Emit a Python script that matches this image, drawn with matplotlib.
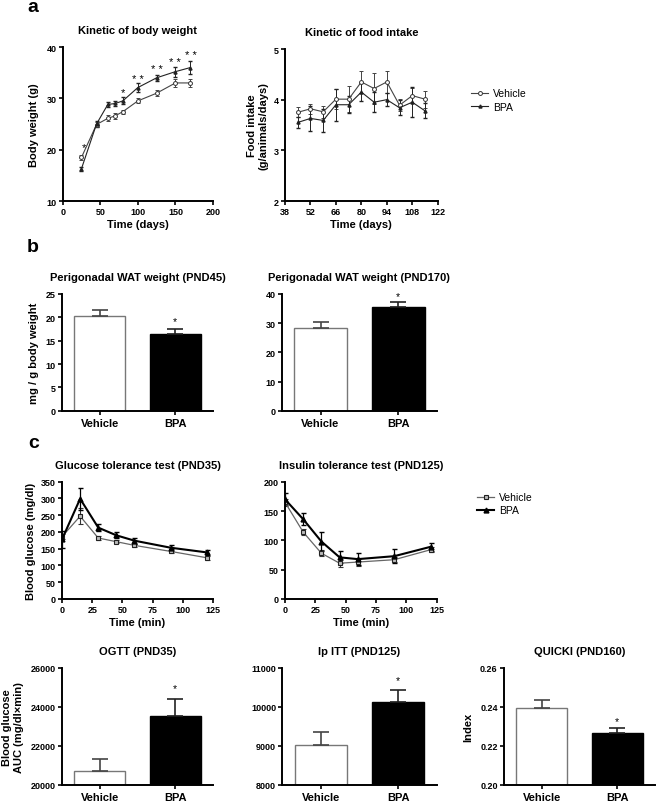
import matplotlib
matplotlib.use("Agg")
import matplotlib.pyplot as plt
import numpy as np

plt.rcParams["font.family"] = ["Liberation Sans", "DejaVu Sans"]
plt.rcParams["font.weight"] = "bold"

# ---- data ----
bw_days = [25, 45, 60, 70, 80, 100, 125, 150, 170]
bw_veh = [18.5, 24.9, 26.1, 26.6, 27.4, 29.5, 31.0, 33.0, 33.0]
bw_veh_err = [0.5, 0.4, 0.6, 0.6, 0.4, 0.5, 0.6, 0.7, 0.8]
bw_bpa = [16.3, 25.0, 28.8, 29.0, 29.5, 32.1, 34.0, 35.2, 36.0]
bw_bpa_err = [0.4, 0.5, 0.4, 0.5, 0.7, 0.8, 0.6, 1.0, 1.2]
bw_stars = {25: ("*", 20.5), 80: ("*", 31.3), 100: ("* *", 33.8),
            125: ("* *", 35.7), 150: ("* *", 37.1), 170: ("* *", 38.5)}

fi_days = [45, 52, 59, 66, 73, 80, 87, 94, 101, 108, 115]
fi_veh = [3.75, 3.82, 3.76, 4.01, 4.01, 4.35, 4.22, 4.35, 3.89, 4.08, 4.01]
fi_veh_err = [0.10, 0.10, 0.12, 0.20, 0.25, 0.22, 0.30, 0.22, 0.12, 0.15, 0.17]
fi_bpa = [3.55, 3.63, 3.59, 3.90, 3.90, 4.15, 3.95, 4.00, 3.84, 3.95, 3.78]
fi_bpa_err = [0.10, 0.25, 0.23, 0.32, 0.17, 0.17, 0.20, 0.13, 0.15, 0.30, 0.15]

wat45 = [20.2, 16.4]
wat45_err = [1.4, 1.0]
wat170 = [28.5, 35.4]
wat170_err = [1.8, 2.0]

t_min = [0, 15, 30, 45, 60, 90, 120]
gtt_veh = [186, 247, 182, 171, 160, 142, 123]
gtt_veh_err = [8, 24, 6, 5, 5, 6, 6]
gtt_bpa = [178, 299, 213, 190, 174, 153, 139]
gtt_bpa_err = [25, 32, 10, 9, 9, 9, 8]

itt_veh = [165, 114, 78, 61, 63, 67, 84]
itt_veh_err = [6, 5, 5, 6, 6, 4, 4]
itt_bpa = [170, 136, 98, 71, 68, 73, 89]
itt_bpa_err = [10, 10, 17, 10, 10, 12, 7]

groups = ["Vehicle", "BPA"]
ogtt_auc = [20690, 23550]
ogtt_auc_err = [650, 860]
itt_auc = [9030, 10120]
itt_auc_err = [320, 320]
quicki = [0.2396, 0.2267]
quicki_err = [0.0041, 0.0026]

W, H = 660, 803
fig = plt.figure(figsize=(W / 100, H / 100), dpi=100)


def px_axes(l, t, r, b):
    ax = fig.add_axes([l / W, 1 - b / H, (r - l) / W, (b - t) / H])
    for s in ["top", "right"]:
        ax.spines[s].set_visible(False)
    for s in ["left", "bottom"]:
        ax.spines[s].set_linewidth(1.4)
    ax.tick_params(width=1.2, length=3, labelsize=6.5, pad=1.5)
    return ax


def style_ticks(ax):
    for lab in ax.get_xticklabels() + ax.get_yticklabels():
        lab.set_fontweight("bold")


TFS = 8
LFS = 8

# ---- a: body weight ----
ax = px_axes(62.7, 48, 213, 202)
ax.errorbar(bw_days, bw_veh, yerr=bw_veh_err, color="#444444", lw=0.8, marker="o",
            ms=2.8, mfc="white", mec="#333333", mew=0.7, capsize=1.5, elinewidth=0.7)
ax.errorbar(bw_days, bw_bpa, yerr=bw_bpa_err, color="#222222", lw=0.8, marker="^",
            ms=2.2, mfc="#222222", mec="#222222", capsize=1.5, elinewidth=0.7)
for d, (s, y) in bw_stars.items():
    ax.text(d + (3 if d == 25 else 0), y, s, ha="center", va="center", fontsize=8, fontweight="normal")
ax.set_xlim(0, 200)
ax.set_ylim(10, 40)
ax.set_xticks([0, 50, 100, 150, 200])
ax.set_yticks([10, 20, 30, 40])
style_ticks(ax)
ax.set_title("Kinetic of body weight", fontsize=TFS, fontweight="bold", pad=10)
ax.set_xlabel("Time (days)", fontsize=LFS, fontweight="bold", labelpad=2)
ax.set_ylabel("Body weight (g)", fontsize=LFS, fontweight="bold", labelpad=5)

# ---- a: food intake ----
ax = px_axes(285, 50, 437.7, 202)
h1 = ax.errorbar(fi_days, fi_veh, yerr=fi_veh_err, color="#444444", lw=0.8, marker="o",
                 ms=2.8, mfc="white", mec="#333333", mew=0.7, capsize=1.5, elinewidth=0.7)
h2 = ax.errorbar(fi_days, fi_bpa, yerr=fi_bpa_err, color="#222222", lw=0.8, marker="^",
                 ms=2.2, mfc="#222222", mec="#222222", capsize=1.5, elinewidth=0.7)
ax.set_xlim(38, 122)
ax.set_ylim(2, 5)
ax.set_xticks(range(38, 123, 14))
ax.set_yticks([2, 3, 4, 5])
style_ticks(ax)
ax.set_title("Kinetic of food intake", fontsize=TFS, fontweight="bold", pad=10)
ax.set_xlabel("Time (days)", fontsize=LFS, fontweight="bold", labelpad=2)
ax.set_ylabel("Food intake\n(g/animals/days)", fontsize=LFS, fontweight="bold", labelpad=4)
fig.legend([h1[0], h2[0]], groups, loc="upper left", bbox_to_anchor=(462 / W, 1 - 80 / H),
           frameon=False, handlelength=1.6, handletextpad=0.5,
           labelspacing=0.3, prop={"weight": "normal", "size": 7.5})


# ---- bar helper ----
def bars(ax, vals, errs, ylim, yticks, title, ylabel=None, star_y=None, fmt=None):
    x = np.arange(len(groups))
    ax.bar(x, vals, width=0.68, color=["white", "black"], edgecolor=["#777777", "black"], lw=1.0)
    for xi, v, e, c in zip(x, vals, errs, ["#444444", "#222222"]):
        ax.errorbar([xi], [v], yerr=[[0], [e]], fmt="none", ecolor=c,
                    elinewidth=1.2, capsize=5.5, capthick=1.2)
    ax.set_xlim(-0.5, 1.5)
    ax.set_ylim(*ylim)
    ax.set_yticks(yticks)
    if fmt:
        ax.set_yticklabels([fmt.format(v) for v in yticks])
    ax.set_xticks(x)
    ax.set_xticklabels(groups, fontsize=8, fontweight="bold")
    ax.tick_params(axis="x", pad=2)
    style_ticks(ax)
    ax.set_title(title, fontsize=TFS, fontweight="bold", pad=10)
    if ylabel:
        ax.set_ylabel(ylabel, fontsize=LFS, fontweight="bold", labelpad=5)
    if star_y is not None:
        ax.text(1, star_y, "*", ha="center", va="center", fontsize=7.5, fontweight="normal")


# ---- b ----
ax = px_axes(62, 295, 213, 411.7)
bars(ax, wat45, wat45_err, (0, 25), [0, 5, 10, 15, 20, 25], "Perigonadal WAT weight (PND45)",
     "mg / g body weight", star_y=19.2)
ax = px_axes(281.7, 295, 437, 411.7)
bars(ax, wat170, wat170_err, (0, 40), [0, 10, 20, 30, 40], "Perigonadal WAT weight (PND170)",
     star_y=39.2)

# ---- c: GTT / ITT ----
ax = px_axes(62, 482.7, 213, 600)
ax.errorbar(t_min, gtt_veh, yerr=gtt_veh_err, color="#666666", lw=0.9, marker="s", ms=3.5,
            mfc="#bbbbbb", mec="#222222", mew=0.8, capsize=1.8, elinewidth=0.8, ecolor="#333333")
ax.errorbar(t_min, gtt_bpa, yerr=gtt_bpa_err, color="black", lw=1.5, marker="^", ms=3.5,
            mfc="black", mec="black", capsize=1.8, elinewidth=0.9)
ax.set_xlim(0, 125)
ax.set_ylim(0, 350)
ax.set_xticks([0, 25, 50, 75, 100, 125])
ax.set_yticks(range(0, 351, 50))
style_ticks(ax)
ax.set_title("Glucose tolerance test (PND35)", fontsize=TFS, fontweight="bold", pad=10)
ax.set_xlabel("Time (min)", fontsize=LFS, fontweight="bold", labelpad=2)
ax.set_ylabel("Blood glucose (mg/dl)", fontsize=LFS, fontweight="bold", labelpad=3)

ax = px_axes(285, 482.7, 436.7, 600)
g1 = ax.errorbar(t_min, itt_veh, yerr=itt_veh_err, color="#666666", lw=0.9, marker="s", ms=3.5,
                 mfc="#bbbbbb", mec="#222222", mew=0.8, capsize=1.8, elinewidth=0.8, ecolor="#333333")
g2 = ax.errorbar(t_min, itt_bpa, yerr=itt_bpa_err, color="black", lw=1.5, marker="^", ms=3.5,
                 mfc="black", mec="black", capsize=1.8, elinewidth=0.9)
ax.set_xlim(0, 125)
ax.set_ylim(0, 200)
ax.set_xticks([0, 25, 50, 75, 100, 125])
ax.set_yticks(range(0, 201, 50))
style_ticks(ax)
ax.set_title("Insulin tolerance test (PND125)", fontsize=TFS, fontweight="bold", pad=10)
ax.set_xlabel("Time (min)", fontsize=LFS, fontweight="bold", labelpad=2)
fig.legend([g1[0], g2[0]], groups, loc="upper left", bbox_to_anchor=(468 / W, 1 - 484 / H),
           frameon=False, handlelength=1.6, handletextpad=0.5, labelspacing=0.3,
           prop={"weight": "normal", "size": 7.5})

# ---- c: AUC bars ----
ax = px_axes(62, 669, 213, 785.7)
bars(ax, ogtt_auc, ogtt_auc_err, (20000, 26000), [20000, 22000, 24000, 26000], "OGTT (PND35)",
     "Blood glucose\nAUC (mg/dl\u00d7min)", star_y=24950)
ax = px_axes(282.3, 669, 436.7, 785.7)
bars(ax, itt_auc, itt_auc_err, (8000, 11000), [8000, 9000, 10000, 11000], "Ip ITT (PND125)",
     star_y=10700)
ax = px_axes(504, 669, 655, 785.7)
bars(ax, quicki, quicki_err, (0.20, 0.26), [0.20, 0.22, 0.24, 0.26], "QUICKI (PND160)",
     "Index", star_y=0.2325, fmt="{:.2f}")

# ---- panel letters ----
for lab, (x, y) in {"a": (27, 8), "b": (27, 248), "c": (28, 444)}.items():
    fig.text(x / W, 1 - y / H, lab, fontsize=14, fontweight="bold", va="center", ha="left")

fig.savefig("out.png", dpi=100)
